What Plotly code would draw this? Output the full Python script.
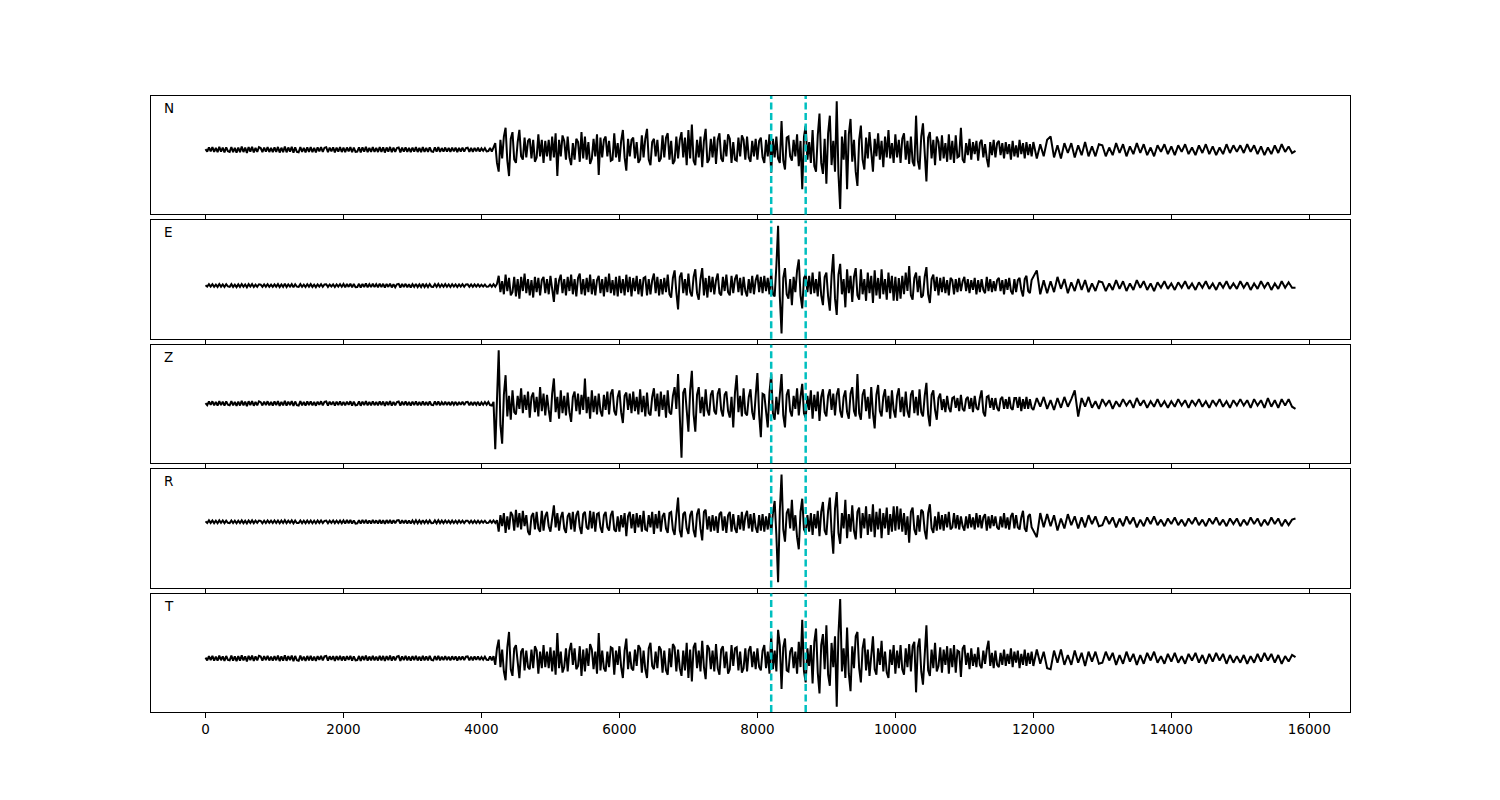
import plotly.graph_objects as go

# ---------------- data (amplitudes, arbitrary units) ----------------
# sampling: every 25 before and across the event window, every 50 in the coda
pre_times = list(range(0, 4000, 25))
event_times = list(range(4000, 12000, 25))
post_times = list(range(12000, 15801, 50))
times = pre_times + event_times + post_times

trace_names = ["N", "E", "Z", "R", "T"]
pick_times = [8200, 8700]
tick_vals = [0, 2000, 4000, 6000, 8000, 10000, 12000, 14000, 16000]
tick_text = ["0", "2000", "4000", "6000", "8000", "10000", "12000", "14000", "16000"]

# ---- N ----
N_pre = [
    [0.5,-1.8,2.1,-1.5,2.4, -2.0,1.6,-2.3,2.6,-1.7, 1.9,-2.4,2.2,-1.4,-2.0, 2.5,-2.2,1.7,-2.6,2.0],
    [-2.3,2.8,-2.1,1.9,-2.9, 2.4,-1.8,2.6,-2.5,1.6, -2.0,2.3,1.5,-2.2,2.0, -1.8,2.4,-2.1,1.7,-2.3],
    [2.1,-1.9,2.5,-2.6,1.8, -2.2,2.9,-2.4,2.0,-1.7, 2.6,-2.8,2.2,-1.9,-2.3, 2.5,-2.0,1.6,-2.4,2.2],
    [-1.9,2.3,-2.2,1.7,-2.5, 2.1,-1.6,2.4,-2.0,1.8, 2.2,-2.3,1.9,-1.5,2.1, -2.4,2.0,-1.8,2.3,-2.1],
    [1.8,-2.2,2.0,-1.6,2.4, -2.3,1.9,-2.0,-1.7,2.2, -2.5,2.1,-1.8,2.6,-2.2, 1.7,-2.0,2.3,-1.9,1.6],
    [-2.1,2.4,-1.9,2.2,-2.6, 2.0,-1.7,2.5,-2.3,1.8, -2.0,1.6,2.1,-2.4,1.9, -1.8,2.2,-2.0,1.7,-2.3],
    [2.0,-1.8,2.3,-2.1,1.6, -2.2,2.4,-1.9,1.7,-2.0, 2.2,-1.6,-1.9,2.1,-1.8, 2.3,-2.0,1.5,-1.7,2.0],
    [-1.8,1.6,-2.0,1.9,-1.5, 1.8,-2.1,1.7,-1.6,1.9, -1.7,1.5,1.8,-2.0,1.6, -1.9,1.7,-1.5,1.8,-1.6],
]
N_event = [
    [1.2,-1.0,1.4,-1.5,-1.2, 1.6,-1.8,2.0,6,-12, -20,9,-8,12,20, -10,-24,10,16,-9],
    [-12,7,18,-6,-9, 11,-7,8,10,-8, 9,-11,-7,14,-6, 9,-12,8,-6,9],
    [-10,12,-7,15,-24, 9,-6,13,8,-9, 12,-7,-14,6,-9, 10,7,-11,16,-8],
    [12,-9,7,-13,-8, 10,-6,14,-23,11, -7,9,12,-6,8, -10,-9,15,-7,6],
    [-11,8,18,-7,-19, 10,-6,9,11,-8, 7,-12,-9,13,-7, 10,19,-9,-14,7],
    [10,-6,9,-11,-8, 13,-7,11,15,-9, 8,-13,-10,12,-8, 9,16,-7,11,-14],
    [18,-8,23,-10,-14, 9,-7,12,-16,8, 19,-12,-9,10,-7, 12,-13,9,15,-8],
    [-11,9,-6,14,10, -12,7,-9,-10,11, -6,13,9,-9,12, -7,-11,8,-6,10],
    [-9,8,11,-7,-12, 9,-6,14,-21,10, -7,12,-8,-12,26, -10,-18,11,12,-6],
    [-10,9,-6,14,-15, 8,-36,12,22,-9, 7,-12,18,-15,-20, 13,33,-12,-22,10],
    [-31,15,31,-14,8, -20,44,-22,-54,12, -9,18,-36,14,28, -11,9,-20,-33,9],
    [22,-9,-18,11,-8, 16,-7,-20,10,-6, 15,-9,8,-16,12, -7,18,-8,6,-12],
    [14,-7,9,-12,10, 15,-9,8,-13,12, -11,-15,31,-10,-18, 12,24,-9,-29,11],
    [16,-8,9,-14,12, 7,-10,13,-8,6, -11,14,-9,8,-12, 13,-7,-6,20,-9],
    [-12,6,-5,10,-9, 7,-4,8,-10,6, 9,-7,5,-8,-16, 7,-5,9,-7,6],
    [8,-5,6,-8,7, -4,5,-9,8,-6, 4,-7,9,-4,6, -8,7,-5,5,-6],
]
N_post = [
    [7,-8,5,-6,9, 12,-7,4,-8,6, -3,6,-7,4,-5, 7,-6,3,-6,5],
    [4,-6,2,-5,6, -3,5,-6,3,-4, 6,-3,5,-5,2, -6,4,-2,5,-4],
    [3,-5,4,-2,5, -4,2,-5,4,-3, 5,-4,3,-5,2, -4,5,-3,4,-2],
    [4,-3,5,-2,4, -4,3,-5,2,-4, 4,-3,5,-2,3, -3,-1],
]

# ---- E ----
E_pre = [
    [0.3,-1.0,1.2,-0.9,1.3, -1.1,0.9,-1.2,1.4,-1.0, 1.1,-1.3,1.2,-0.8,-1.1, 1.3,-1.2,0.9,-1.4,1.1],
    [-1.2,1.4,-1.1,1.0,-1.5, 1.3,-0.9,1.4,-1.3,0.9, -1.1,1.2,0.8,-1.2,1.1, -1.0,1.3,-1.1,0.9,-1.2],
    [1.1,-1.0,1.3,-1.4,1.0, -1.2,1.6,-1.3,1.1,-0.9, 1.4,-1.5,1.2,-1.0,-1.2, 1.3,-1.1,0.9,-1.3,1.2],
    [-1.0,1.3,-1.2,0.9,-1.4, 1.1,-0.9,1.3,-1.1,1.0, 1.2,-1.2,1.0,-0.8,1.1, -1.3,1.1,-1.0,1.2,-1.1],
    [1.4,-1.6,1.5,-1.2,1.7, -1.6,1.4,-1.5,-1.3,1.6, -1.8,1.5,-1.3,1.9,-1.6, 1.2,-1.4,1.7,-1.4,1.2],
    [-1.5,1.8,-1.4,1.6,-1.9, 1.5,-1.2,1.8,-1.7,1.3, -1.5,1.2,1.6,-1.8,1.4, -1.3,1.6,-1.5,1.2,-1.7],
    [1.3,-1.2,1.5,-1.4,1.1, -1.4,1.6,-1.3,1.1,-1.3, 1.4,-1.1,-1.2,1.4,-1.2, 1.5,-1.3,1.0,-1.1,1.3],
    [-1.1,1.0,-1.3,1.2,-1.0, 1.1,-1.3,1.1,-1.0,1.2, -1.1,1.0,1.1,-1.2,1.0, -1.2,1.1,-1.0,1.1,-1.0],
]
E_event = [
    [0.8,-0.9,1.0,-1.1,-0.9, 1.0,-1.1,1.2,-1.0,1.5, 9,-6,4,-8,10, -5,7,-9,-6,8],
    [-10,6,-12,8,-5, 11,-7,6,-9,5, -11,8,-6,7,-9, 5,8,-7,6,-8],
    [9,-6,-15,7,-8, 5,10,-7,6,-9, 8,-5,10,-8,6, -10,7,11,-8,6],
    [-9,7,-6,10,-8, 6,-9,5,9,-7, 6,-10,8,-6,11, -7,5,-9,8,-10],
    [9,-7,6,-9,10, -6,8,-10,7,-5, 9,-8,6,-10,7, 8,-9,6,-8,5],
    [11,-7,8,-9,6, -8,7,-6,10,-8, -11,7,14,-6,-22, 8,12,-7,6,-9],
    [11,-6,-10,8,15, -7,-13,6,16,-9, 7,-11,9,-6,8, -8,5,11,-7,-9],
    [8,-5,10,-6,-9, 9,-7,6,10,-6, 7,-9,8,-5,-10, 6,-7,9,-8,5],
    [10,-6,8,-7,9, -5,7,-8,12,-8, -10,18,55,-10,-44, 7,16,-8,-12,6],
    [-18,8,-6,14,24, -9,-21,7,10,-6, 9,-8,12,-7,6, -10,13,-9,-18,8],
    [12,-10,-23,9,29, -12,-27,10,20,-8, 6,-20,15,-7,9, -15,8,16,-9,-13],
    [15,-8,6,-14,12, -7,9,-16,14,-9, 7,-12,15,-8,6, -13,12,-7,9,-14],
    [8,-14,7,-12,9, -8,12,-5,18,-9, -13,7,12,-6,9, -11,-9,8,17,-8],
    [-16,6,10,-5,8, -9,7,-6,8,-7, 5,-9,7,5,-8, 6,-6,7,-5,4],
    [8,-5,6,-7,5, -4,7,-8,5,-6, 6,-4,-7,8,-5, 6,-6,4,-5,5],
    [7,-5,5,-8,6, -4,7,-5,-8,6, -6,5,7,-4,-10, 6,9,-5,-7,5],
]
E_post = [
    [8,14,-8,5,-7, 4,-6,8,-3,6, -7,3,-5,6,-4, 5,-6,2,-5,4],
    [3,-5,2,-4,5, -3,4,-5,2,-4, 5,-2,4,-4,2, -5,3,-2,4,-3],
    [2,-4,3,-2,4, -3,2,-4,3,-2, 4,-3,2,-4,3, -2,4,-3,2,-3],
    [4,-2,3,-4,2, -3,4,-2,3,-4, 2,-3,4,-2,3, -2,-2],
]

# ---- Z ----
Z_pre = [
    [0.4,-1.5,1.8,-1.3,2.0, -1.7,1.4,-1.9,2.1,-1.5, 1.6,-2.0,1.8,-1.2,-1.7, 2.1,-1.8,1.4,-2.2,1.7],
    [-1.9,2.3,-1.7,1.6,-2.4, 2.0,-1.5,2.2,-2.1,1.3, -1.7,1.9,1.2,-1.8,1.7, -1.5,2.0,-1.8,1.4,-1.9],
    [1.8,-1.6,2.1,-2.2,1.5, -1.8,2.4,-2.0,1.7,-1.4, 2.2,-2.3,1.8,-1.6,-1.9, 2.1,-1.7,1.3,-2.0,1.8],
    [-1.6,1.9,-1.8,1.4,-2.1, 1.7,-1.3,2.0,-1.7,1.5, 1.8,-1.9,1.6,-1.2,1.7, -2.0,1.7,-1.5,1.9,-1.7],
    [1.5,-1.8,1.7,-1.3,2.0, -1.9,1.6,-1.7,-1.4,1.8, -2.1,1.7,-1.5,2.2,-1.8, 1.4,-1.7,1.9,-1.6,1.3],
    [-1.7,2.0,-1.6,1.8,-2.2, 1.7,-1.4,2.1,-1.9,1.5, -1.7,1.3,1.8,-2.0,1.6, -1.5,1.8,-1.7,1.4,-1.9],
    [1.7,-1.5,1.9,-1.8,1.3, -1.8,2.0,-1.6,1.4,-1.7, 1.8,-1.3,-1.6,1.8,-1.5, 1.9,-1.7,1.2,-1.4,1.7],
    [-1.5,1.3,-1.7,1.6,-1.2, 1.5,-1.8,1.4,-1.3,1.6, -1.4,1.2,1.5,-1.7,1.3, -1.6,1.4,-1.2,1.5,-2.0],
]
Z_event = [
    [1.0,-1.2,1.3,-1.1,1.4, -1.5,-2.0,1.5,-42,5, 49,-20,-37,8,26, -12,7,-15,12,-8],
    [-10,7,-5,14,-9, 8,-6,11,-13,6, 10,-8,6,-12,15, -7,9,-11,8,-6],
    [-17,9,23,-8,6, -14,12,-9,7,-11, 10,-8,-17,6,11, -7,9,-10,8,-6],
    [23,-9,6,-14,12, -8,7,-10,9,-7, -12,8,-6,11,-10, 9,13,-7,-11,6],
    [12,-8,-18,7,10, -6,9,-9,11,-7, 6,-10,13,-8,7, -12,10,-9,-11,6],
    [14,-7,9,-12,11, -6,8,-13,12,-8, -10,7,15,-5,27, -12,-50,10,14,-6],
    [-26,12,30,-10,-26, 8,15,-9,6,-12, 13,-6,-11,8,12, -7,-10,9,14,-6],
    [-12,8,11,-7,-13, 6,-22,10,26,-8, 7,-12,14,-9,-11, 6,13,-8,-15,7],
    [28,-10,-31,9,8, -7,-22,10,27,-9, -15,6,-10,8,27, -11,-22,8,13,-7],
    [-12,7,-5,14,-11, 6,18,-9,-13,7, -6,12,-14,8,-7, 11,-16,6,13,-8],
    [-12,7,13,-6,9, -11,8,14,-7,-13, 6,12,-8,-14,9, 15,-7,-12,27,-9],
    [-15,8,13,-7,6, -14,15,-9,-23,8, 17,-7,-12,6,13, -8,7,-14,12,-6],
    [-13,7,14,-8,6, -12,11,-7,-13,8, 12,-9,6,-11,13, -8,-12,7,19,-10],
    [-21,8,12,-6,-15, 5,9,-6,4,-8, 7,-4,-8,5,6, -4,5,-7,8,-5],
    [-7,4,6,-5,5, -8,7,-4,-6,5, 12,-8,-12,6,7, -4,5,-6,5,-4],
    [-7,4,6,-5,4, -5,6,-4,-6,5, 5,-4,6,-7,4, -5,6,-5,4,-4],
]
Z_post = [
    [-6,5,-3,6,-5, 3,-6,5,-4,6, -3,4,12,-12,5, -3,6,-4,2,-5],
    [4,-2,3,-5,2, -3,4,-2,3,-4, 5,-2,3,-4,2, -3,4,-3,2,-4],
    [2,-3,4,-2,3, -4,3,-2,4,-3, 2,-4,3,-2,4, -3,2,-4,3,-2],
    [4,-2,3,-4,4, -2,3,-4,5,-3, 3,-4,4,-2,4, -3,-5],
]

# ---- R ----
R_pre = [
    [0.4,-1.1,1.3,-1.0,1.2, -1.2,1.0,-1.3,1.3,-0.9, 1.2,-1.2,1.1,-0.9,-1.2, 1.2,-1.1,1.0,-1.3,1.0],
    [-1.1,1.3,-1.2,0.9,-1.4, 1.2,-1.0,1.3,-1.2,1.0, -1.0,1.1,0.9,-1.3,1.0, -1.1,1.2,-1.0,1.0,-1.1],
    [1.2,-1.1,1.2,-1.3,1.1, -1.1,1.5,-1.2,1.0,-1.0, 1.3,-1.4,1.1,-1.1,-1.1, 1.2,-1.2,1.0,-1.2,1.1],
    [-1.1,1.2,-1.3,1.0,-1.3, 1.2,-1.0,1.2,-1.2,0.9, 1.1,-1.3,1.1,-0.9,1.2, -1.2,1.0,-1.1,1.1,-1.2],
    [1.3,-1.5,1.6,-1.3,1.6, -1.5,1.3,-1.6,-1.4,1.5, -1.7,1.6,-1.4,1.8,-1.5, 1.3,-1.5,1.6,-1.3,1.3],
    [-1.6,1.7,-1.5,1.5,-1.8, 1.6,-1.3,1.7,-1.6,1.4, -1.4,1.3,1.5,-1.7,1.5, -1.4,1.5,-1.6,1.3,-1.6],
    [1.2,-1.3,1.4,-1.3,1.2, -1.3,1.5,-1.2,1.2,-1.2, 1.3,-1.2,-1.1,1.3,-1.3, 1.4,-1.2,1.1,-1.2,1.2],
    [-1.0,1.1,-1.2,1.1,-1.1, 1.0,-1.2,1.2,-0.9,1.1, -1.2,0.9,1.0,-1.1,1.1, -1.1,1.0,-1.1,1.0,-1.1],
]
R_event = [
    [0.9,-0.8,1.0,-1.0,-0.9, 1.1,-1.0,1.2,-1.1,1.5, -9,6,-4,8,-10, 5,-7,9,6,-8],
    [11,-5,8,-7,10, -4,6,-9,-12,5, 8,-7,9,-6,-9, 10,-8,5,9,-4],
    [-9,6,15,-5,8, -8,4,9,-6,-10, 5,8,-7,9,-9, 6,10,-5,-11,7],
    [9,-5,-7,10,-6, 9,-9,7,8,-5, -10,6,9,-5,-8, 6,10,-7,-9,5],
    [-9,6,-5,8,-13, 5,9,-6,7,-10, 8,-5,6,-9,10, -7,-8,6,-5,9],
    [-11,7,-6,10,-9, 5,8,-6,-10,8, 9,-7,-12,6,22, -8,-14,7,9,-6],
    [-11,6,10,-8,-14, 7,12,-6,-17,9, 11,-7,5,-9,6, -8,5,-10,7,9],
    [-8,5,-10,6,9, -9,7,-6,-10,6, -7,9,-8,5,10, -6,7,-9,8,-5],
    [-10,6,-8,7,-9, 5,-7,8,-11,8, 19,-12,-55,10,43, -7,-18,8,12,-6],
    [20,-8,6,-14,-25, 9,21,-7,-10,6, -9,8,-12,7,-6, 10,-13,9,18,-8],
    [-12,10,22,-9,-29, 12,27,-10,-20,8, -6,20,-15,7,-9, 15,-8,-16,9,13],
    [-15,8,-6,14,-12, 7,-9,16,-14,9, -7,12,-15,8,-6, 13,-12,7,-9,14],
    [-8,14,-7,12,-9, 8,-12,5,-19,9, 13,-7,-12,6,-9, 11,9,-8,-16,8],
    [16,-6,-10,5,-8, 9,-7,6,-8,7, -5,9,-7,-5,8, -6,6,-7,5,-4],
    [-8,5,-6,7,-5, 4,-7,8,-5,6, -6,4,7,-8,5, -6,6,-4,5,-5],
    [-7,5,-5,8,-6, 4,-7,5,8,-6, 6,-5,-7,4,10, -6,-9,5,7,-5],
]
R_post = [
    [-8,-14,8,-5,7, -4,6,-8,3,-6, 7,-3,5,-6,4, -5,6,-2,5,-4],
    [-3,5,-2,4,-5, 3,-4,5,-2,4, -5,2,-4,4,-2, 5,-3,2,-4,3],
    [-2,4,-3,2,-4, 3,-2,4,-3,2, -4,3,-2,4,-3, 2,-4,3,-2,3],
    [-4,2,-3,4,-2, 3,-4,2,-3,4, -2,3,-4,2,-3, 2,3],
]

# ---- T ----
T_pre = [
    [0.6,-1.9,2.0,-1.6,2.3, -2.1,1.5,-2.2,2.5,-1.8, 1.8,-2.3,2.1,-1.5,-1.9, 2.4,-2.1,1.8,-2.5,1.9],
    [-2.2,2.7,-2.0,1.8,-2.8, 2.3,-1.7,2.5,-2.4,1.7, -1.9,2.2,1.6,-2.1,1.9, -1.7,2.3,-2.0,1.6,-2.2],
    [2.0,-1.8,2.4,-2.5,1.7, -2.1,2.8,-2.3,1.9,-1.6, 2.5,-2.7,2.1,-1.8,-2.2, 2.4,-1.9,1.5,-2.3,2.1],
    [-1.8,2.2,-2.1,1.6,-2.4, 2.0,-1.5,2.3,-1.9,1.7, 2.1,-2.2,1.8,-1.4,2.0, -2.3,1.9,-1.7,2.2,-2.0],
    [1.7,-2.1,1.9,-1.5,2.3, -2.2,1.8,-1.9,-1.6,2.1, -2.4,2.0,-1.7,2.5,-2.1, 1.6,-1.9,2.2,-1.8,1.5],
    [-2.0,2.3,-1.8,2.1,-2.5, 1.9,-1.6,2.4,-2.2,1.7, -1.9,1.5,2.0,-2.3,1.8, -1.7,2.1,-1.9,1.6,-2.2],
    [1.9,-1.7,2.2,-2.0,1.5, -2.1,2.3,-1.8,1.6,-1.9, 2.1,-1.5,-1.8,2.0,-1.7, 2.2,-1.9,1.4,-1.6,1.9],
    [-1.7,1.5,-1.9,1.8,-1.4, 1.7,-2.0,1.6,-1.5,1.8, -1.6,1.4,1.7,-1.9,1.5, -1.8,1.6,-1.4,1.7,-1.5],
]
T_event = [
    [1.1,-1.2,1.4,-1.3,-1.5, 1.6,-1.8,2.0,-6,9, 17,-8,8,-12,-20, 10,24,-10,-16,9],
    [12,-7,-18,6,9, -11,7,-8,-10,8, -9,11,7,-14,6, -9,12,-8,6,-9],
    [10,-12,7,-15,23, -9,6,-13,-8,9, -12,7,14,-6,9, -10,-7,11,-16,8],
    [-12,9,-7,13,8, -10,6,-14,23,-11, 7,-9,-12,6,-8, 10,9,-15,7,-6],
    [11,-8,-18,7,18, -10,6,-9,-11,8, -7,12,9,-13,7, -10,-18,9,14,-7],
    [-10,6,-9,11,8, -13,7,-11,-15,9, -8,13,10,-12,8, -9,-16,7,-11,14],
    [-18,8,-21,10,14, -9,7,-12,16,-8, -19,12,9,-10,7, -12,13,-9,-15,8],
    [11,-9,6,-14,-10, 12,-7,9,10,-11, 6,-13,-9,9,-12, 7,11,-8,6,-10],
    [9,-8,-11,7,12, -9,6,-14,21,-10, 7,-12,26,12,-28, 10,18,-11,-12,6],
    [10,-9,6,-14,15, -8,35,-12,-22,9, -7,12,-23,15,27, -13,-32,12,22,-10],
    [30,-15,-25,14,-8, 20,-44,22,54,-12, 9,-18,28,-14,-30, 11,-9,20,24,-9],
    [-22,9,18,-11,8, -16,7,20,-10,-15, 9,-6,16,-12,6, -13,-18,8,-6,12],
    [-14,7,-9,12,-10, -15,9,-8,13,-12, 11,15,-31,10,18, -12,-24,9,30,-11],
    [-16,8,-9,14,-12, -7,10,-13,8,-6, 11,-14,9,-8,12, -13,7,6,-17,9],
    [12,-6,5,-10,9, -7,4,-8,10,-6, -9,7,-5,8,16, -7,5,-9,7,-6],
    [-8,5,-6,8,-7, 4,-5,9,-8,6, -4,7,-9,4,-6, 8,-7,5,-5,6],
]
T_post = [
    [-7,8,-5,6,-9, -10,7,-4,8,-6, 3,-6,7,-4,5, -7,6,-3,6,-5],
    [-4,6,-2,5,-6, 3,-5,6,-3,4, -6,3,-5,5,-2, 6,-4,2,-5,4],
    [-3,5,-4,2,-5, 4,-2,5,-4,3, -5,4,-3,5,-2, 4,-5,3,-4,2],
    [-4,3,-5,2,-4, 4,-3,5,-2,4, -4,3,-5,2,-3, 3,1],
]


def assemble(name, pre, event, post):
    parts = []
    for rows, tt, label in ((pre, pre_times, "pre"), (event, event_times, "event"), (post, post_times, "post")):
        vals = [v for r in rows for v in r]
        if len(vals) != len(tt):
            raise ValueError(f"{name} {label}: {len(vals)} values vs {len(tt)} times; rows={[len(r) for r in rows]}")
        parts += vals
    return parts


traces = [
    assemble("N", N_pre, N_event, N_post),
    assemble("E", E_pre, E_event, E_post),
    assemble("Z", Z_pre, Z_event, Z_post),
    assemble("R", R_pre, R_event, R_post),
    assemble("T", T_pre, T_event, T_post),
]

# ---------------- layout geometry (page pixels; the page body has an 8px margin) ----------------
OFF = 8
W, H = 1500 - 2 * OFF, 800 - 2 * OFF
x_dom = [(151 - OFF) / W, (1350 - OFF) / W]
panel_px = [(96, 214.4), (220.4, 338.8), (344.8, 463.2), (469.2, 587.6), (593.6, 712)]
x_range = [-790, 16590]

fig = go.Figure()
font = dict(family="DejaVu Sans", size=13.5, color="black")

for i, (name, vals) in enumerate(zip(trace_names, traces)):
    k = "" if i == 0 else str(i + 1)
    fig.add_trace(go.Scatter(
        x=times, y=vals, mode="lines",
        line=dict(color="black", width=2),
        xaxis="x" + k, yaxis="y" + k, showlegend=False, hoverinfo="skip",
    ))
    lo, hi = min(vals), max(vals)
    pad = 0.05 * (hi - lo)
    top_px, bot_px = panel_px[i]
    last = (i == len(trace_names) - 1)
    fig.update_layout(**{
        "xaxis" + k: dict(
            domain=x_dom, anchor="y" + k, range=x_range,
            showgrid=False, zeroline=False,
            showline=True, mirror=True, linecolor="black", linewidth=1,
            ticks="outside", ticklen=5, tickwidth=1, tickcolor="black",
            tickvals=tick_vals, ticktext=tick_text,
            showticklabels=last, tickfont=font,
            **({} if i == 0 else {"matches": "x"}),
        ),
        "yaxis" + k: dict(
            domain=[1 - (bot_px - OFF) / H, 1 - (top_px - OFF) / H], anchor="x" + k,
            range=[lo - pad, hi + pad],
            showgrid=False, zeroline=False, showticklabels=False, ticks="",
            showline=True, mirror=True, linecolor="black", linewidth=1,
        ),
    })
    for pt in pick_times:
        fig.add_shape(
            type="line", xref="x" + k, yref="y" + k + " domain",
            x0=pt, x1=pt, y0=0, y1=1,
            line=dict(color="#00BFBF", width=2.5, dash="7px,3.5px"),
            layer="above",
        )
    fig.add_annotation(
        text=name, xref="x" + k + " domain", yref="y" + k + " domain",
        x=0.009, y=1 - 12 / (bot_px - top_px), xanchor="left", yanchor="middle",
        showarrow=False, font=font,
    )

fig.update_layout(
    width=W, height=H,
    margin=dict(l=0, r=0, t=0, b=0),
    paper_bgcolor="white", plot_bgcolor="white",
)

fig.write_html("out.html")
